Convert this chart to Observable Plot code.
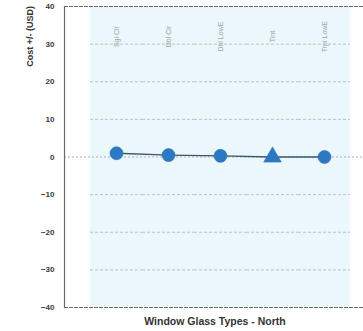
<!DOCTYPE html>
<html>
<head>
<meta charset="utf-8">
<script src="https://cdn.jsdelivr.net/npm/d3@7"></script>
<script src="https://cdn.jsdelivr.net/npm/@observablehq/plot@0.6"></script>
<style>
  html, body { margin: 0; padding: 0; background: #fff; }
  #chart svg { display: block; }
</style>
</head>
<body>
<div id="chart"></div>
<script>
// Window glass options and their cost difference (USD), north facade
const categories = ["Sgl Clr", "Dbl Clr", "Dbl LowE", "Tint", "Trpl LowE"];
const costDelta = [1.0, 0.5, 0.3, 0.0, 0.0];
const markerShapes = ["circle", "circle", "circle", "triangle", "circle"];
const yTicks = [40, 30, 20, 10, 0, -10, -20, -30, -40];
const gridValues = [30, 20, 10, -10, -20, -30];

const rows = categories.map((c, i) => ({category: c, cost: costDelta[i], shape: markerShapes[i]}));
const grid = gridValues.flatMap(v => categories.map(c => ({category: c, v})));

const font = "'Liberation Sans Narrow', 'Arial Narrow', 'Liberation Sans', sans-serif";

const chart = Plot.plot({
  width: 363,
  height: 331,
  marginLeft: 64,
  marginRight: 0,
  marginTop: 6,
  marginBottom: 24,
  style: {fontFamily: font, background: "#fff"},
  x: {type: "band", domain: categories, range: [90, 350], padding: 0, axis: null},
  y: {domain: [-40, 40], axis: null},
  marks: [
    // pale panel behind the categories
    Plot.barY(categories, {x: d => d, y1: -40, y2: 40, fill: "#ecf7fb", inset: 0}),
    // dashed gridlines across the panel
    Plot.tickY(grid, {x: "category", y: "v", stroke: "#b9c3c7", strokeDasharray: "3,2", strokeWidth: 1}),
    Plot.ruleY([0], {stroke: "#a9b1b5", strokeDasharray: "2,2", strokeWidth: 1}),
    // plot border: top, bottom and left
    Plot.ruleY([-40, 40], {stroke: "#6a6a6a", strokeWidth: 1.2, strokeDasharray: "4,1"}),
    Plot.frame({anchor: "left", stroke: "#6a6a6a", strokeWidth: 1.2}),
    Plot.axisY({
      ticks: yTicks, tickSize: 0, tickPadding: 10, label: null,
      fontSize: 8, fontWeight: "bold", fill: "#3a3a3a"
    }),
    // rotated category names near the top
    Plot.text(categories, {
      x: d => d, y: 32, text: d => d, rotate: -90,
      fontSize: 7, fill: "#9aa4a8"
    }),
    Plot.lineY(rows, {x: "category", y: "cost", stroke: "#3d5670", strokeWidth: 1.4}),
    Plot.dot(rows, {x: "category", y: "cost", symbol: "shape", fill: "#2b79c2", r: 6.5, stroke: "#2a6fb0", strokeWidth: 0.6})
  ]
});

const svg = d3.select(chart);
svg.append("text")
  .attr("transform", "translate(33,6) rotate(-90)")
  .attr("text-anchor", "end")
  .attr("font-family", font)
  .attr("font-size", 9)
  .attr("font-weight", "bold")
  .attr("fill", "#333")
  .text("Cost +/- (USD)");
svg.append("text")
  .attr("x", 215)
  .attr("y", 325)
  .attr("text-anchor", "middle")
  .attr("font-family", font)
  .attr("font-size", 10.5)
  .attr("font-weight", "bold")
  .attr("fill", "#333")
  .text("Window Glass Types - North");

document.getElementById("chart").append(chart);
</script>
</body>
</html>
